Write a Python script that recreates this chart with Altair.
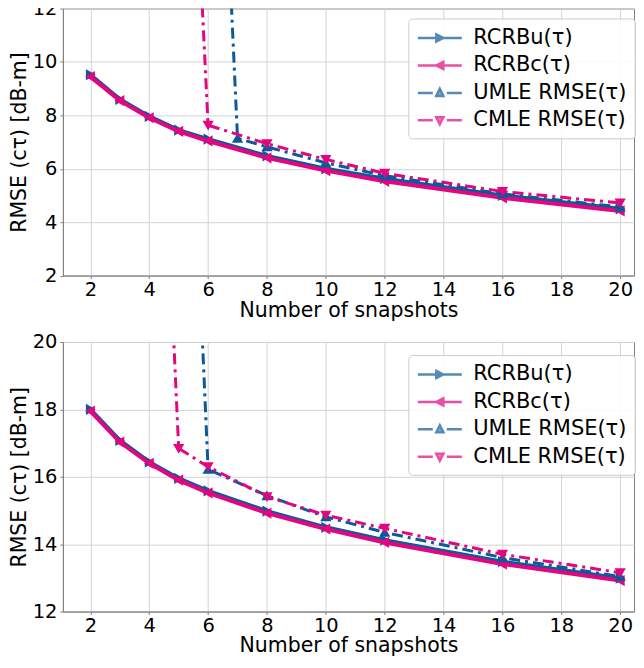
import altair as alt
import pandas as pd

# ---------------- data ----------------
series = ["RCRBu(τ)", "RCRBc(τ)", "UMLE RMSE(τ)", "CMLE RMSE(τ)"]
colors = ["#0b5a9b", "#e2067f", "#0b5a9b", "#e2067f"]
markers = ["triangle-right", "triangle-left", "triangle-up", "triangle-down"]

x_rcrb = [2, 3, 4, 5, 6, 8, 10, 12, 16, 20]

top_rcrbu = [9.52, 8.60, 7.96, 7.45, 7.11, 6.48, 6.00, 5.63, 5.00, 4.50]
top_rcrbc = [9.45, 8.55, 7.91, 7.40, 7.04, 6.41, 5.93, 5.53, 4.91, 4.42]
top_umle_x = [6, 7, 8, 10, 12, 16, 20]
top_umle = [31.0, 7.14, 6.82, 6.22, 5.74, 5.06, 4.57]
top_cmle_x = [5, 6, 8, 10, 12, 16, 20]
top_cmle = [30.0, 7.63, 6.94, 6.35, 5.83, 5.15, 4.72]

bot_rcrbu = [18.00, 17.08, 16.44, 15.95, 15.58, 14.98, 14.50, 14.12, 13.48, 12.99]
bot_rcrbc = [17.95, 17.03, 16.40, 15.90, 15.52, 14.92, 14.45, 14.05, 13.41, 12.92]
bot_umle_x = [5, 6, 8, 10, 12, 16, 20]
bot_umle = [36.0, 16.22, 15.44, 14.81, 14.35, 13.60, 13.04]
bot_cmle_x = [4, 5, 6, 8, 10, 12, 16, 20]
bot_cmle = [36.0, 16.84, 16.30, 15.41, 14.86, 14.47, 13.70, 13.15]

x_ticks = [2, 4, 6, 8, 10, 12, 14, 16, 18, 20]
top_yticks = [2, 4, 6, 8, 10, 12]
bot_yticks = [12, 14, 16, 18, 20]

# legend symbols: line + marker (unit-box paths)
legend_paths = [
    "M-1,0L3.4,0M0.85,-0.35L1.55,0L0.85,0.35Z",
    "M-1,0L3.4,0M1.55,-0.35L0.85,0L1.55,0.35Z",
    "M-1,0L0.5,0M1.9,0L3.4,0M0.85,0.3L1.2,-0.4L1.55,0.3Z",
    "M-1,0L0.5,0M1.9,0L3.4,0M0.85,-0.3L1.2,0.4L1.55,-0.3Z",
]

DASHDOT = [11, 5, 3, 5]
W = 572


def panel(xy, ydomain, yticks, height, legend_y):
    xscale = alt.Scale(domain=[1.067, 20.47], nice=False, zero=False)
    yscale = alt.Scale(domain=ydomain, nice=False, zero=False)
    xaxis = alt.Axis(values=x_ticks, title="Number of snapshots", titlePadding=1,
                     labelPadding=2, labelFlush=False)
    yaxis = alt.Axis(values=yticks, title="RMSE (cτ) [dB-m]", titlePadding=3,
                     labelFlush=False)
    layers = []
    frames = []
    for i, s in enumerate(series):
        xs, ys = xy[i]
        df = pd.DataFrame({"x": xs, "y": ys, "series": s})
        frames.append(df)
        base = alt.Chart(df).encode(
            x=alt.X("x:Q", scale=xscale, axis=xaxis),
            y=alt.Y("y:Q", scale=yscale, axis=yaxis),
        )
        if i < 2:
            line = base.mark_line(clip=True, color=colors[i], strokeWidth=4)
        else:
            line = base.mark_line(clip=True, color=colors[i], strokeWidth=3,
                                  strokeDash=DASHDOT)
        pts = base.mark_point(clip=True, filled=True, shape=markers[i],
                              fill=colors[i], fillOpacity=1, opacity=1,
                              stroke=colors[i], strokeWidth=1.5, size=75)
        layers += [line, pts]

    leg = alt.Legend(title=None, orient="none", legendX=346, legendY=legend_y,
                     padding=8, labelFontSize=21, labelColor="black",
                     symbolSize=400, symbolStrokeWidth=2.5, labelOffset=34,
                     rowPadding=5.5, fillColor="rgba(255,255,255,0.85)",
                     strokeColor="#cccccc", cornerRadius=4, labelLimit=400)
    alldf = pd.concat(frames, ignore_index=True)
    legend_layer = alt.Chart(alldf).transform_filter("datum.x < 0").mark_point(
        clip=True
    ).encode(
        x=alt.X("x:Q", scale=xscale, axis=xaxis),
        y=alt.Y("y:Q", scale=yscale, axis=yaxis),
        fill=alt.Fill("series:N", scale=alt.Scale(domain=series, range=colors), legend=leg),
        stroke=alt.Stroke("series:N", scale=alt.Scale(domain=series, range=colors), legend=leg),
        shape=alt.Shape("series:N", scale=alt.Scale(domain=series, range=legend_paths), legend=leg),
    )
    layers.append(legend_layer)
    return alt.layer(*layers).properties(width=W, height=height)


top = panel([(x_rcrb, top_rcrbu), (x_rcrb, top_rcrbc), (top_umle_x, top_umle),
             (top_cmle_x, top_cmle)], [2, 12], top_yticks, 267.5, 10)
bottom = panel([(x_rcrb, bot_rcrbu), (x_rcrb, bot_rcrbc), (bot_umle_x, bot_umle),
                (bot_cmle_x, bot_cmle)], [12, 20], bot_yticks, 270, 13)

chart = alt.vconcat(top, bottom, spacing=10).resolve_scale(
    fill="independent", stroke="independent", shape="independent"
).properties(
    padding={"left": 0, "top": -11, "right": 0, "bottom": 0}
).configure(
    font="DejaVu Sans"
).configure_view(
    stroke="#808080", strokeWidth=1
).configure_axis(
    labelFontSize=19.5, titleFontSize=20.5, labelColor="black", titleColor="black",
    titleFontWeight="normal", domainColor="#808080", tickColor="#808080",
    gridColor="#d3d3d3", gridWidth=1, tickSize=3, labelPadding=3,
)

chart.save("out.html", embed_options={"renderer": "svg", "actions": False})
